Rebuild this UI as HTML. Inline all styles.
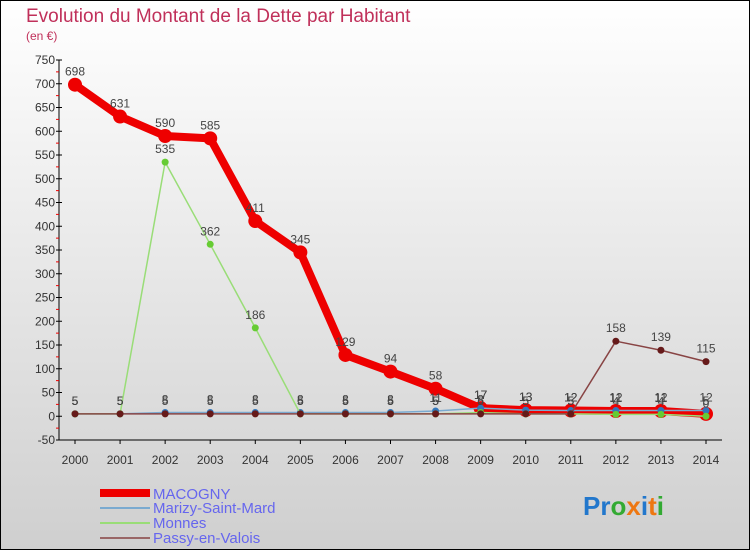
<!DOCTYPE html>
<html><head><meta charset="utf-8"><style>
body{margin:0}
#wrap{width:750px;height:550px;position:relative;overflow:hidden;font-family:"Liberation Sans",sans-serif;}
</style></head><body>
<div id="wrap">
<svg id="chart" width="750" height="550" viewBox="0 0 750 550" xmlns="http://www.w3.org/2000/svg">
<defs><linearGradient id="bg" x1="0" y1="0" x2="0" y2="1"><stop offset="0" stop-color="#ffffff"/><stop offset="1" stop-color="#cfcfcf"/></linearGradient></defs>
<rect x="0.5" y="0.5" width="749" height="549" fill="url(#bg)" stroke="#000"/>
<text x="26" y="22" font-size="19" fill="#c0305a">Evolution du Montant de la Dette par Habitant</text>
<text x="26" y="40" font-size="12" fill="#c0305a">(en €)</text>
<g id="axes"></g>
<g id="series"></g>
<g id="legend">
<rect x="100" y="489" width="50" height="8" fill="#ee0000"/>
<text x="153" y="499" font-size="15" fill="#6666ee">MACOGNY</text>
<line x1="100" y1="508" x2="150" y2="508" stroke="#7aaad0" stroke-width="2"/>
<text x="153" y="513" font-size="15" fill="#6666ee">Marizy-Saint-Mard</text>
<line x1="100" y1="523" x2="150" y2="523" stroke="#99dd77" stroke-width="2"/>
<text x="153" y="528" font-size="15" fill="#6666ee">Monnes</text>
<line x1="100" y1="538" x2="150" y2="538" stroke="#996666" stroke-width="2"/>
<text x="153" y="543" font-size="15" fill="#6666ee">Passy-en-Valois</text>
</g>
<text x="583" y="515" font-size="26" font-weight="bold"><tspan fill="#2277cc">Pr</tspan><tspan fill="#33aa33">o</tspan><tspan fill="#ee7711">x</tspan><tspan fill="#2277cc">i</tspan><tspan fill="#ee7711">t</tspan><tspan fill="#33aa33">i</tspan></text>
</svg>
</div>
<script>
const years=[2000,2001,2002,2003,2004,2005,2006,2007,2008,2009,2010,2011,2012,2013,2014];
const yTicks=[-50,0,50,100,150,200,250,300,350,400,450,500,550,600,650,700,750];
const macogny=[698,631,590,585,411,345,129,94,58,17,13,12,11,11,5];
const marizy=[5,5,8,8,8,8,8,8,11,17,13,12,12,12,12];
const monnes=[5,5,535,362,186,5,5,5,5,8,5,5,4,4,0];
const passy=[5,5,5,5,5,5,5,5,5,5,5,5,158,139,115];
const NS="http://www.w3.org/2000/svg";
function xs(i){return 75+i*(706-75)/(years.length-1);}
function ys(v){return 416.25-v*0.475;}
function mk(tag,attrs,parent){const e=document.createElementNS(NS,tag);for(const k in attrs)e.setAttribute(k,attrs[k]);parent.appendChild(e);return e;}
const axes=document.getElementById('axes');
const ser=document.getElementById('series');
const yAxis=mk('line',{x1:59,y1:ys(750),x2:59,y2:ys(-50),stroke:'#000'},axes);


const xAxis=mk('line',{x1:59,y1:ys(-50),x2:722,y2:ys(-50),stroke:'#000'},axes);


yTicks.forEach((t,i)=>{
  const tk=mk('line',{x1:56,y1:ys(t),x2:62,y2:ys(t),stroke:'#000'},axes);
  
  
  if(i<yTicks.length-1){const m=mk('line',{x1:56,y1:ys(t+25),x2:59,y2:ys(t+25),stroke:'#e00'},axes);
  
  }
  const lb=mk('text',{x:55,y:ys(t)+4,'font-size':12,'text-anchor':'end',fill:'#333'},axes);
  lb.textContent=t;
  
  
});
years.forEach((y,i)=>{
  const tk=mk('line',{x1:xs(i),y1:ys(-50),x2:xs(i),y2:ys(-50)+4,stroke:'#000'},axes);
  
  
  const lb=mk('text',{x:xs(i),y:464,'font-size':12,'text-anchor':'middle',fill:'#333'},axes);
  lb.textContent=y;
  
  
});
function draw(vals,color,dotColor,w,r,name){
  const g=mk('g',{},ser);
  
  
  const pl=mk('polyline',{points:vals.map((v,i)=>xs(i)+','+ys(v)).join(' '),fill:'none',stroke:color,'stroke-width':w,'stroke-linejoin':'round'},g);
  
  
  vals.forEach((v,i)=>{
    const c=mk('circle',{cx:xs(i),cy:ys(v),r:r,fill:dotColor},g);
    
    
    const t=mk('text',{x:xs(i),y:ys(v)-9,'font-size':12,'text-anchor':'middle',fill:'#444'},g);
    t.textContent=v;
    
    
  });
}
draw(macogny,'#ee0000','#ee0000',8,7,'macogny');
draw(marizy,'#7aaad0','#3377bb',1.5,3.5,'marizy');
draw(monnes,'#99dd77','#66cc33',1.5,3.5,'monnes');
draw(passy,'#884444','#661a1a',1.5,3.5,'passy');
</script>
</body></html>
